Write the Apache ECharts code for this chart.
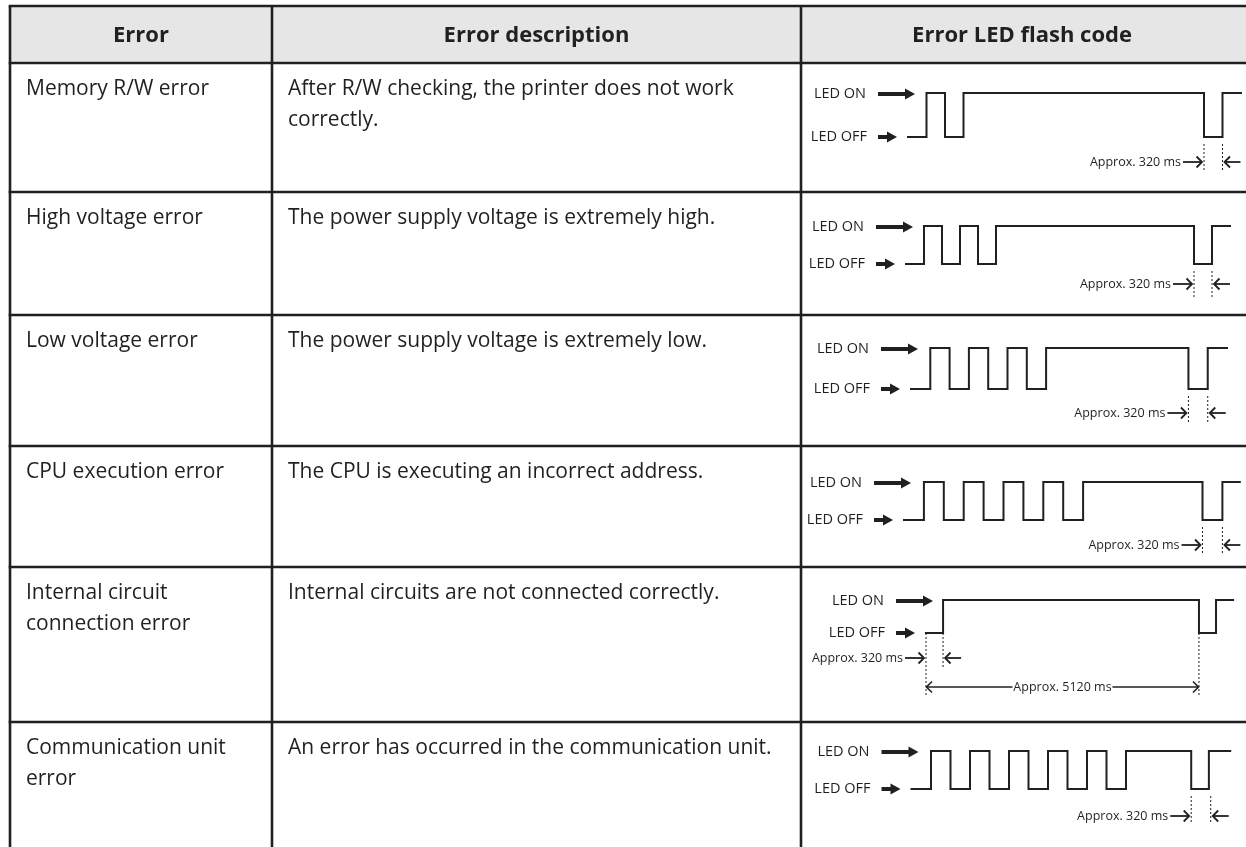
<!DOCTYPE html>
<html><head><meta charset="utf-8">
<script src="https://cdn.jsdelivr.net/npm/echarts@6/dist/echarts.min.js"></script>
<style>html,body{margin:0;padding:0;background:#fff;}#c{width:1246px;height:847px;}</style>
</head><body><div id="c"></div>
<script>
// ---------- data ----------
const headers = ['Error', 'Error description', 'Error LED flash code'];
const errors = ['Memory R/W error', 'High voltage error', 'Low voltage error', 'CPU execution error',
  'Internal circuit\nconnection error', 'Communication unit\nerror'];
const descriptions = ['After R/W checking, the printer does not work\ncorrectly.',
  'The power supply voltage is extremely high.', 'The power supply voltage is extremely low.',
  'The CPU is executing an incorrect address.', 'Internal circuits are not connected correctly.',
  'An error has occurred in the communication unit.'];
const levelLabels = ['LED ON', 'LED OFF'];
// LED flash codes: time (ms) of each change and the level from then on (1 = ON, 0 = OFF)
const timesMemory = [0, 320, 640, 960, 5120, 5440, 5760];
const levelsMemory = [0, 1, 0, 1, 0, 1, 1];
const timesHigh = [0, 320, 640, 960, 1280, 1600, 5120, 5440, 5760];
const levelsHigh = [0, 1, 0, 1, 0, 1, 0, 1, 1];
const timesLow = [0, 320, 640, 960, 1280, 1600, 1920, 2240, 4600, 4920, 5240];
const levelsLow = [0, 1, 0, 1, 0, 1, 0, 1, 0, 1, 1];
const timesCpu = [0, 320, 640, 960, 1280, 1600, 1920, 2240, 2560, 2880, 4800, 5120, 5400];
const levelsCpu = [0, 1, 0, 1, 0, 1, 0, 1, 0, 1, 0, 1, 1];
const timesCircuit = [0, 320, 5120, 5440, 5760];
const levelsCircuit = [0, 1, 0, 1, 1];
const timesComm = [0, 320, 640, 960, 1280, 1600, 1920, 2240, 2560, 2880, 3200, 3520, 4590, 4880, 5230];
const levelsComm = [0, 1, 0, 1, 0, 1, 0, 1, 0, 1, 0, 1, 0, 1, 1];
const noteText = 'Approx. 320 ms';
const noteStart = [5120, 5120, 4600, 4800, 0, 4590];   // start of the marked 320 ms period
const noteLength = 320;
const cycleText = 'Approx. 5120 ms';
const cycleSpan = [0, 5120];                            // marked on the connection error row

const allTimes = [timesMemory, timesHigh, timesLow, timesCpu, timesCircuit, timesComm];
const allLevels = [levelsMemory, levelsHigh, levelsLow, levelsCpu, levelsCircuit, levelsComm];

// ---------- layout ----------
const INK = '#231f20';
const FONT = '"Open Sans", "Noto Sans", sans-serif';
const tableLeft = 10, tableRight = 1246, tableTop = 6, tableBottom = 847;
const colX = [272, 801];
const rowY = [63, 192, 315, 446, 567, 722];
const waveLayout = [
  {x0: 908, u: 18.5, on: 93, off: 137, noteDy: 25},
  {x0: 906, u: 18.0, on: 226, off: 264, noteDy: 20},
  {x0: 911, u: 19.3, on: 348, off: 389, noteDy: 24},
  {x0: 904, u: 19.9, on: 482, off: 520, noteDy: 25},
  {x0: 926, u: 17.06, on: 600, off: 633, noteDy: 25},
  {x0: 911.5, u: 19.5, on: 751, off: 789, noteDy: 27}
];

const chart = echarts.init(document.getElementById('c'), null, {renderer: 'canvas'});

const grids = [], xAxes = [], yAxes = [], series = [];
allTimes.forEach((times, i) => {
  const L = waveLayout[i];
  const tMax = times[times.length - 1];
  grids.push({left: L.x0, top: L.on, width: tMax / 320 * L.u, height: L.off - L.on, containLabel: false});
  xAxes.push({type: 'value', gridIndex: i, min: 0, max: tMax, show: false});
  yAxes.push({type: 'value', gridIndex: i, min: 0, max: 1, show: false});
  series.push({
    type: 'line', xAxisIndex: i, yAxisIndex: i, step: 'end', symbol: 'none', clip: false,
    silent: true, animation: false,
    lineStyle: {color: INK, width: 2, join: 'miter', cap: 'square'},
    data: times.map((t, k) => [t, allLevels[i][k]])
  });
});

chart.setOption({animation: false, grid: grids, xAxis: xAxes, yAxis: yAxes, series: series});

// ---------- table + annotations ----------
const g = [];
function line(x1, y1, x2, y2, w, dash) {
  g.push({type: 'line', silent: true, z: 10,
    shape: {x1, y1, x2, y2},
    style: {stroke: INK, lineWidth: w, lineDash: dash || null}});
}
function text(str, x, y, opt) {
  g.push({type: 'text', silent: true, z: 12, x: 0, y: 0,
    style: Object.assign({text: str, x, y, fill: INK, fontFamily: FONT, fontSize: 21,
      align: 'left', verticalAlign: 'top', textAlign: 'left', textVerticalAlign: 'top'}, opt || {})});
}
function fatArrow(xTip, y, len) {
  g.push({type: 'rect', silent: true, z: 11, shape: {x: xTip - len, y: y - 2, width: len - 9, height: 4},
    style: {fill: INK}});
  g.push({type: 'polygon', silent: true, z: 11,
    shape: {points: [[xTip - 10, y - 5.5], [xTip, y], [xTip - 10, y + 5.5]]}, style: {fill: INK}});
}
function thinArrow(xTip, y, len, dir) {
  const s = dir; // +1 points right, -1 points left
  g.push({type: 'line', silent: true, z: 11, shape: {x1: xTip - s * len, y1: y, x2: xTip - s * 1, y2: y},
    style: {stroke: INK, lineWidth: 1.8}});
  g.push({type: 'polyline', silent: true, z: 11,
    shape: {points: [[xTip - s * 5.5, y - 5.5], [xTip, y], [xTip - s * 5.5, y + 5.5]]},
    style: {stroke: INK, lineWidth: 1.8, fill: null}});
}

// header background
g.push({type: 'rect', silent: true, z: 1, shape: {x: tableLeft, y: tableTop, width: tableRight - tableLeft, height: rowY[0] - tableTop},
  style: {fill: '#e6e6e6'}});
// grid lines
const BW = 2.6;
[tableTop].concat(rowY).forEach(y => line(tableLeft - BW / 2, y, tableRight, y, BW));
[tableLeft].concat(colX).forEach(x => line(x, tableTop, x, tableBottom, BW));

// headers
const colCenters = [(tableLeft + colX[0]) / 2, (colX[0] + colX[1]) / 2, (colX[1] + 1243) / 2];
headers.forEach((h, i) => text(h, colCenters[i], (tableTop + rowY[0]) / 2 + 1,
  {fontWeight: 'bold', fontSize: 22, align: 'center', textAlign: 'center', verticalAlign: 'middle', textVerticalAlign: 'middle'}));

// body text
errors.forEach((e, i) => {
  text(e, 26, rowY[i] + 11, {lineHeight: 31});
  text(descriptions[i], 288, rowY[i] + 11, {lineHeight: 31});
});

// wave annotations
allTimes.forEach((times, i) => {
  const L = waveLayout[i];
  const px = t => chart.convertToPixel({gridIndex: i}, [t, 0]);
  const start = px(0);
  const xs = start[0];
  const yOn = chart.convertToPixel({gridIndex: i}, [0, 1])[1];
  const yOff = start[1];
  // LED ON / OFF labels and arrows
  fatArrow(xs + 7, yOn + 1, 37);
  text(levelLabels[0], xs + 7 - 37 - 12, yOn + 1, {fontSize: 14.5, align: 'right', textAlign: 'right', verticalAlign: 'middle', textVerticalAlign: 'middle'});
  fatArrow(xs - 11, yOff, 19);
  text(levelLabels[1], xs - 11 - 19 - 11, yOff, {fontSize: 14.5, align: 'right', textAlign: 'right', verticalAlign: 'middle', textVerticalAlign: 'middle'});

  const a = px(noteStart[i])[0], b = px(noteStart[i] + noteLength)[0];
  const ny = yOff + L.noteDy;
  if (i === 4) {
    line(a, yOff, a, yOff + 64, 1, [2, 2]);
    line(b, yOff, b, yOff + 34, 1, [2, 2]);
    const c1 = px(cycleSpan[0])[0], c2 = px(cycleSpan[1])[0];
    line(c2, yOff, c2, yOff + 62, 1, [2, 2]);
    // 5120 ms span
    const cy = yOff + 54, mid = (c1 + c2) / 2;
    line(c1 + 1, cy, mid - 50, cy, 1.6);
    line(mid + 50, cy, c2 - 1, cy, 1.6);
    g.push({type: 'polyline', silent: true, z: 11, shape: {points: [[c1 + 6, cy - 5.5], [c1 + 0.5, cy], [c1 + 6, cy + 5.5]]}, style: {stroke: INK, lineWidth: 1.6, fill: null}});
    g.push({type: 'polyline', silent: true, z: 11, shape: {points: [[c2 - 6, cy - 5.5], [c2 - 0.5, cy], [c2 - 6, cy + 5.5]]}, style: {stroke: INK, lineWidth: 1.6, fill: null}});
    text(cycleText, mid, cy, {fontSize: 12.5, align: 'center', textAlign: 'center', verticalAlign: 'middle', textVerticalAlign: 'middle'});
  } else {
    line(a, yOff + 7, a, yOff + 33, 1, [2, 2]);
    line(b, yOff + 7, b, yOff + 33, 1, [2, 2]);
  }
  thinArrow(a - 2, ny, 19, 1);
  thinArrow(b + 2, ny, 16, -1);
  text(noteText, a - 23, ny, {fontSize: 12.5, align: 'right', textAlign: 'right', verticalAlign: 'middle', textVerticalAlign: 'middle'});
});

chart.setOption({graphic: {elements: g}});
</script></body></html>
